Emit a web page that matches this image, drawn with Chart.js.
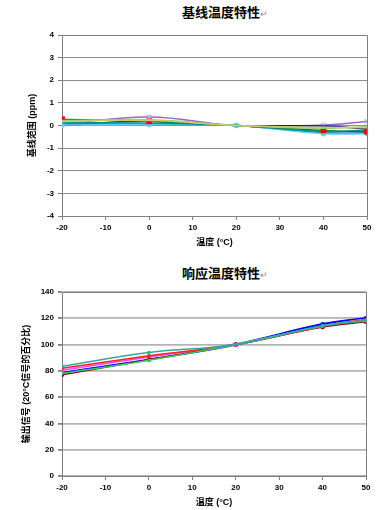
<!DOCTYPE html>
<html>
<head>
<meta charset="utf-8">
<script src="https://cdn.jsdelivr.net/npm/chart.js@4.4.0/dist/chart.umd.min.js"></script>
<style>
  html, body { margin: 0; padding: 0; background: #fff; }
  body { width: 378px; height: 510px; position: relative; overflow: hidden; }
  .ttl {
    position: absolute; left: 0; width: 378px; text-align: center;
    font: bold 13px "Noto Sans CJK SC", sans-serif; color: #000; line-height: 16px;
    padding-left: 72px; box-sizing: border-box;
  }
  .ttl span { font-weight: normal; font-size: 9px; color: #888; }
  .box { position: absolute; left: 0; width: 378px; height: 255px; }
</style>
</head>
<body>
<div class="ttl" style="top:4px;">基线温度特性<span>↵</span></div>
<div class="ttl" style="top:265px;">响应温度特性<span>↵</span></div>
<div class="box" style="top:0"><canvas id="baseChart" width="378" height="250"></canvas></div>
<div class="box" style="top:255px"><canvas id="respChart" width="378" height="255"></canvas></div>
<script>
  // ── Data ─────────────────────────────────────────
  const temps = [-20, 0, 20, 40, 50];
  const xTicks = [-20, -10, 0, 10, 20, 30, 40, 50];

  // 基线 (ppm)
  const basePurple = [0.05, 0.38, 0, 0.02, 0.18];
  const baseGreen = [0.28, 0.18, 0, -0.22, -0.27];
  const baseLime = [0.22, 0.25, 0, -0.12, -0.05];
  const baseYellow = [0.18, 0.22, 0, -0.08, -0.1];
  const baseNavy = [0.0, 0.2, 0, -0.02, -0.15];
  const baseTeal = [0.12, 0.1, 0, -0.28, -0.2];
  const baseBlue = [0.08, 0.05, 0, -0.33, -0.32];
  const baseSky = [0.02, 0.04, 0, -0.36, -0.36];

  // 响应 (% of 20°C signal)
  const respTeal = [83.5, 94, 100, 114.5, 118.5];
  const respRed = [82, 91.5, 100, 114, 119];
  const respPink = [80.5, 90.5, 100, 113.5, 118];
  const respWhite = [80, 90, 100, 114, 119];
  const respGreen = [78, 88, 100, 114, 118];
  const respDark = [77, 88.5, 100, 113.4, 117.3];
  const respBlue = [79, 89, 100, 115.5, 120];

  // ── Styling ──────────────────────────────────────
  const TICK_FONT = { family: "'Liberation Sans', Arial, sans-serif", size: 8, weight: "bold" };
  const TITLE_FONT = { family: "'Liberation Sans', 'Noto Sans CJK SC', sans-serif", size: 9, weight: "bold" };
  const AXIS = "#808080";

  const frame = {
    id: "frame",
    afterDraw(chart) {
      const { ctx, chartArea: a } = chart;
      ctx.save();
      ctx.strokeStyle = AXIS;
      ctx.lineWidth = 1;
      ctx.beginPath();
      ctx.moveTo(a.left, a.top + 0.5);
      ctx.lineTo(a.right + 0.5, a.top + 0.5);
      ctx.lineTo(a.right + 0.5, a.bottom);
      ctx.stroke();
      ctx.restore();
    }
  };

  const series = (data, color, extra) => Object.assign({
    data: data.map((v, i) => ({ x: temps[i], y: v })),
    borderColor: color,
    backgroundColor: color,
    borderWidth: 1.5,
    tension: 0.4,
    pointRadius: 0
  }, extra || {});

  function makeChart(id, datasets, yMin, yMax, yStep, yTitle, gridColor, gridWidth, pad, titlePad) {
    return new Chart(document.getElementById(id), {
      type: "line",
      data: { datasets },
      plugins: [frame],
      options: {
        responsive: false,
        animation: false,
        layout: { padding: pad },
        plugins: { legend: { display: false }, tooltip: { enabled: false } },
        scales: {
          x: {
            type: "linear", min: -20, max: 50,
            afterBuildTicks: (s) => { s.ticks = xTicks.map(v => ({ value: v })); },
            afterFit: (s) => { s.height = 34; },
            ticks: { font: TICK_FONT, color: "#000", padding: 3, maxRotation: 0 },
            grid: { display: true, drawOnChartArea: false, tickLength: 4, color: AXIS },
            border: { color: AXIS, width: 1 },
            title: { display: true, text: "温度 (°C)", font: TITLE_FONT, color: "#000", padding: { top: 0, bottom: 2 } }
          },
          y: {
            min: yMin, max: yMax,
            afterFit: (s) => { s.width = 62; },
            ticks: { stepSize: yStep, font: TICK_FONT, color: "#000", padding: 4 },
            grid: { color: gridColor, lineWidth: gridWidth, tickLength: 4, tickColor: AXIS },
            border: { color: AXIS, width: 1 },
            title: { display: true, text: yTitle, font: TITLE_FONT, color: "#000", padding: { top: titlePad, bottom: 0 } }
          }
        }
      }
    });
  }

  makeChart("baseChart", [
    series(baseYellow, "#CCCC66"),
    series(baseLime, "#99CC66"),
    series(baseGreen, "#008040", { pointRadius: [3, 3, 0, 3, 3], pointStyle: "rect", pointBackgroundColor: "#FF0000", pointBorderColor: "#FF0000" }),
    series(baseTeal, "#009999"),
    series(baseSky, "#66CCFF", { pointRadius: 2, pointBackgroundColor: "#66CCFF", pointBorderColor: "#66CCFF" }),
    series(baseBlue, "#3366CC"),
    series(baseNavy, "#1A1A80"),
    series(basePurple, "#9966CC", { pointRadius: 3, pointStyle: "crossRot", pointBorderColor: "#99BBEE", pointBorderWidth: 1.5 })
  ], -4, 4, 1, "基线范围 (ppm)", "#8C8C8C", 1, { top: 35, right: 11, left: 0, bottom: 0 }, 27);

  makeChart("respChart", [
    series(respTeal, "#33AA99", { pointRadius: 1 }),
    series(respGreen, "#33CC66", { pointRadius: 1 }),
    series(respRed, "#FF2020", { pointRadius: 1 }),
    series(respDark, "#880000", { pointRadius: 1.5, pointBackgroundColor: ["#990000", "#CC6600", "#FF6666", "#990000", "#FF6600"] }),
    series(respPink, "#FF44FF", { pointRadius: 1.5 }),
    series(respWhite, "#F0F0FF", { borderWidth: 2, pointRadius: 0 }),
    series(respBlue, "#0000FF", { borderWidth: 2.5, pointRadius: 1 })
  ], 0, 140, 20, "输出信号 (20°C信号的百分比)", "#B4B4B4", 1.8, { top: 37, right: 12, left: 0, bottom: 0 }, 21);
</script>
</body>
</html>
